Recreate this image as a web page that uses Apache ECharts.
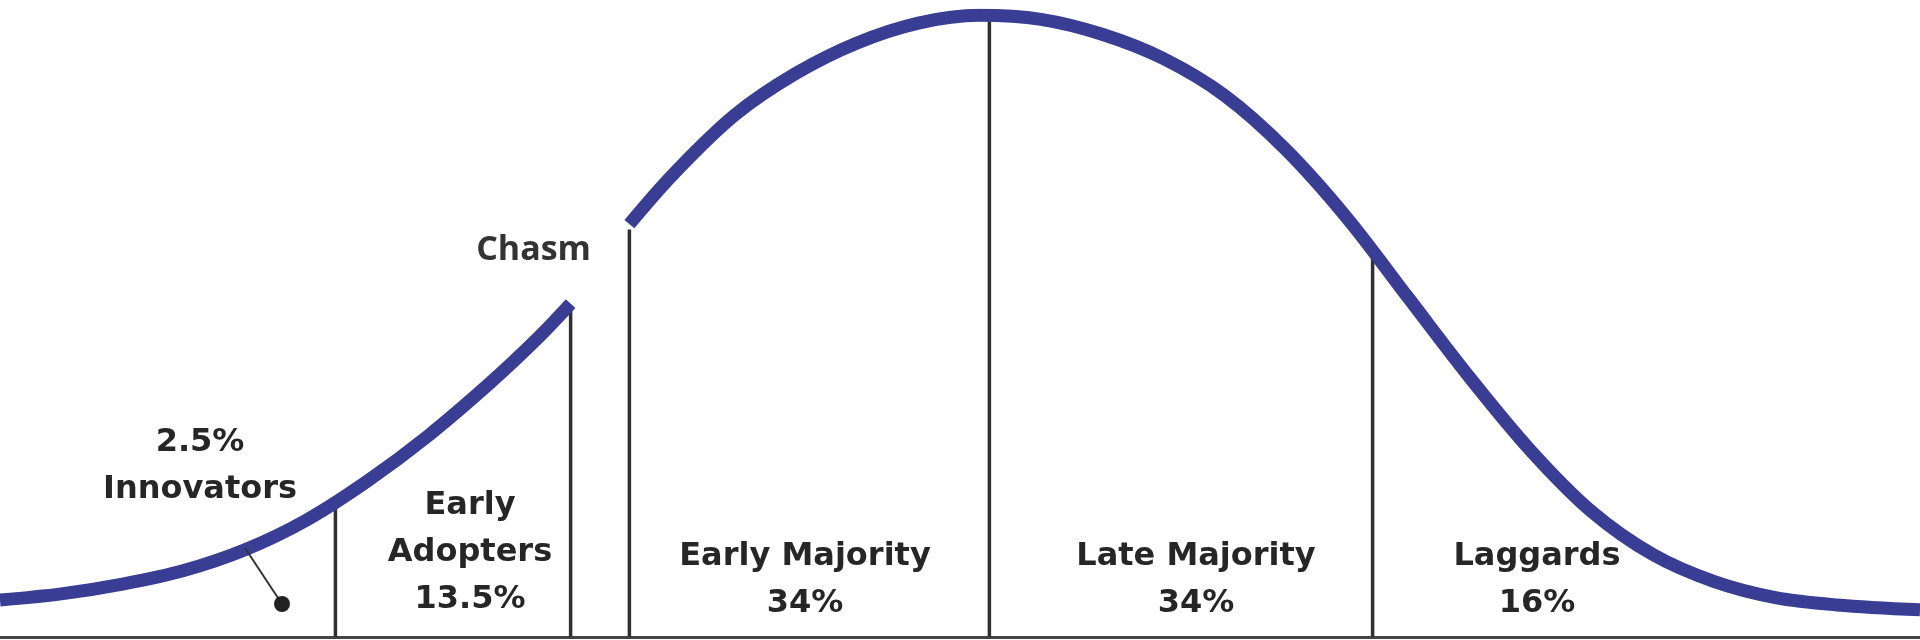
<!DOCTYPE html>
<html>
<head>
<meta charset="utf-8">
<title>Technology Adoption Lifecycle</title>
<script src="https://cdn.jsdelivr.net/npm/echarts@6/dist/echarts.min.js"></script>
<style>
  html, body { margin: 0; padding: 0; background: #fff; }
  #chart { width: 1920px; height: 640px; }
</style>
</head>
<body>
<div id="chart"></div>
<script>
// curve before the chasm (x: 0-100 across, y: share of peak)
const leftX = [0, 3.19, 6.38, 9.57, 12.76, 15.94, 19.13, 22.32, 25.51, 28.06, 29.72]
const leftY = [5.95, 6.93, 8.5, 10.68, 14.02, 18.75, 25.05, 32.4, 40.8, 48.2, 53.59]
// curve after the chasm
const rightX = [32.78, 35.08, 38.27, 41.45, 44.64, 47.83, 51.02, 54.21, 57.40, 60.59, 63.78, 66.96, 70.15, 73.34, 76.53, 79.72, 82.91, 86.10, 89.29, 92.47, 95.66, 100]
const rightY = [66.38, 74.45, 83.91, 90.6, 95.5, 98.7, 99.95, 99.3, 96.9, 93.0, 87.06, 78.4, 67.4, 54.57, 41.78, 29.97, 20.13, 13.23, 8.9, 6.33, 5.16, 4.37]
// vertical dividers between groups
const dividerX = [17.47, 29.72, 32.78, 51.53, 71.49]
const dividerTop = [21, 52.6, 65.5, 99, 61.5]
// groups
const groupNames = ['Innovators', 'Early\nAdopters', 'Early Majority', 'Late Majority', 'Laggards']
const groupShares = ['2.5%', '13.5%', '34%', '34%', '16%']

const BLUE = '#393d94'
const INK = '#262626'
const labelFont = 'bold 32px "DejaVu Sans"'

const chart = echarts.init(document.getElementById('chart'))

const dividerSeries = dividerX.map((x, i) => ({
  type: 'line',
  silent: true,
  symbol: 'none',
  z: 2,
  lineStyle: { color: '#303030', width: 3.5 },
  data: [[x, 0], [x, dividerTop[i]]]
}))

// label text, innovators uses a pointer so its text sits above the curve
const labelPos = [
  { x: 200, y: 466, text: groupShares[0] + '\n' + groupNames[0] },
  { x: 470, y: 553, text: groupNames[1] + '\n' + groupShares[1] },
  { x: 805, y: 580, text: groupNames[2] + '\n' + groupShares[2] },
  { x: 1196, y: 580, text: groupNames[3] + '\n' + groupShares[3] },
  { x: 1537, y: 580, text: groupNames[4] + '\n' + groupShares[4] }
]

const texts = labelPos.map(p => ({
  type: 'text',
  x: p.x,
  y: p.y,
  z: 10,
  style: {
    text: p.text,
    font: labelFont,
    fill: INK,
    align: 'center',
    verticalAlign: 'middle',
    lineHeight: 47
  }
}))

const curveStyle = { color: BLUE, width: 13, cap: 'butt' }

chart.setOption({
  animation: false,
  grid: { left: 0, right: 0, top: 15, bottom: 3 },
  xAxis: {
    type: 'value',
    min: 0,
    max: 100,
    axisLine: { show: true, onZero: false, lineStyle: { color: '#444', width: 3 } },
    axisTick: { show: false },
    axisLabel: { show: false },
    splitLine: { show: false }
  },
  yAxis: {
    type: 'value',
    min: 0,
    max: 100,
    show: false
  },
  series: [
    {
      name: 'before chasm',
      type: 'line',
      smooth: 0.35,
      symbol: 'none',
      z: 5,
      lineStyle: curveStyle,
      data: leftX.map((x, i) => [x, leftY[i]])
    },
    {
      name: 'after chasm',
      type: 'line',
      smooth: 0.35,
      symbol: 'none',
      z: 5,
      lineStyle: curveStyle,
      data: rightX.map((x, i) => [x, rightY[i]])
    }
  ].concat(dividerSeries),
  graphic: texts.concat([
    {
      type: 'text',
      x: 591,
      y: 250,
      z: 10,
      style: {
        text: 'Chasm',
        font: 'bold 34px "Open Sans"',
        fill: '#333',
        align: 'right',
        verticalAlign: 'middle'
      }
    },
    {
      type: 'line',
      z: 10,
      shape: { x1: 245, y1: 548, x2: 282, y2: 604 },
      style: { stroke: '#333', lineWidth: 2 }
    },
    {
      type: 'circle',
      z: 10,
      shape: { cx: 282, cy: 604, r: 8 },
      style: { fill: '#222' }
    }
  ])
})
</script>
</body>
</html>
